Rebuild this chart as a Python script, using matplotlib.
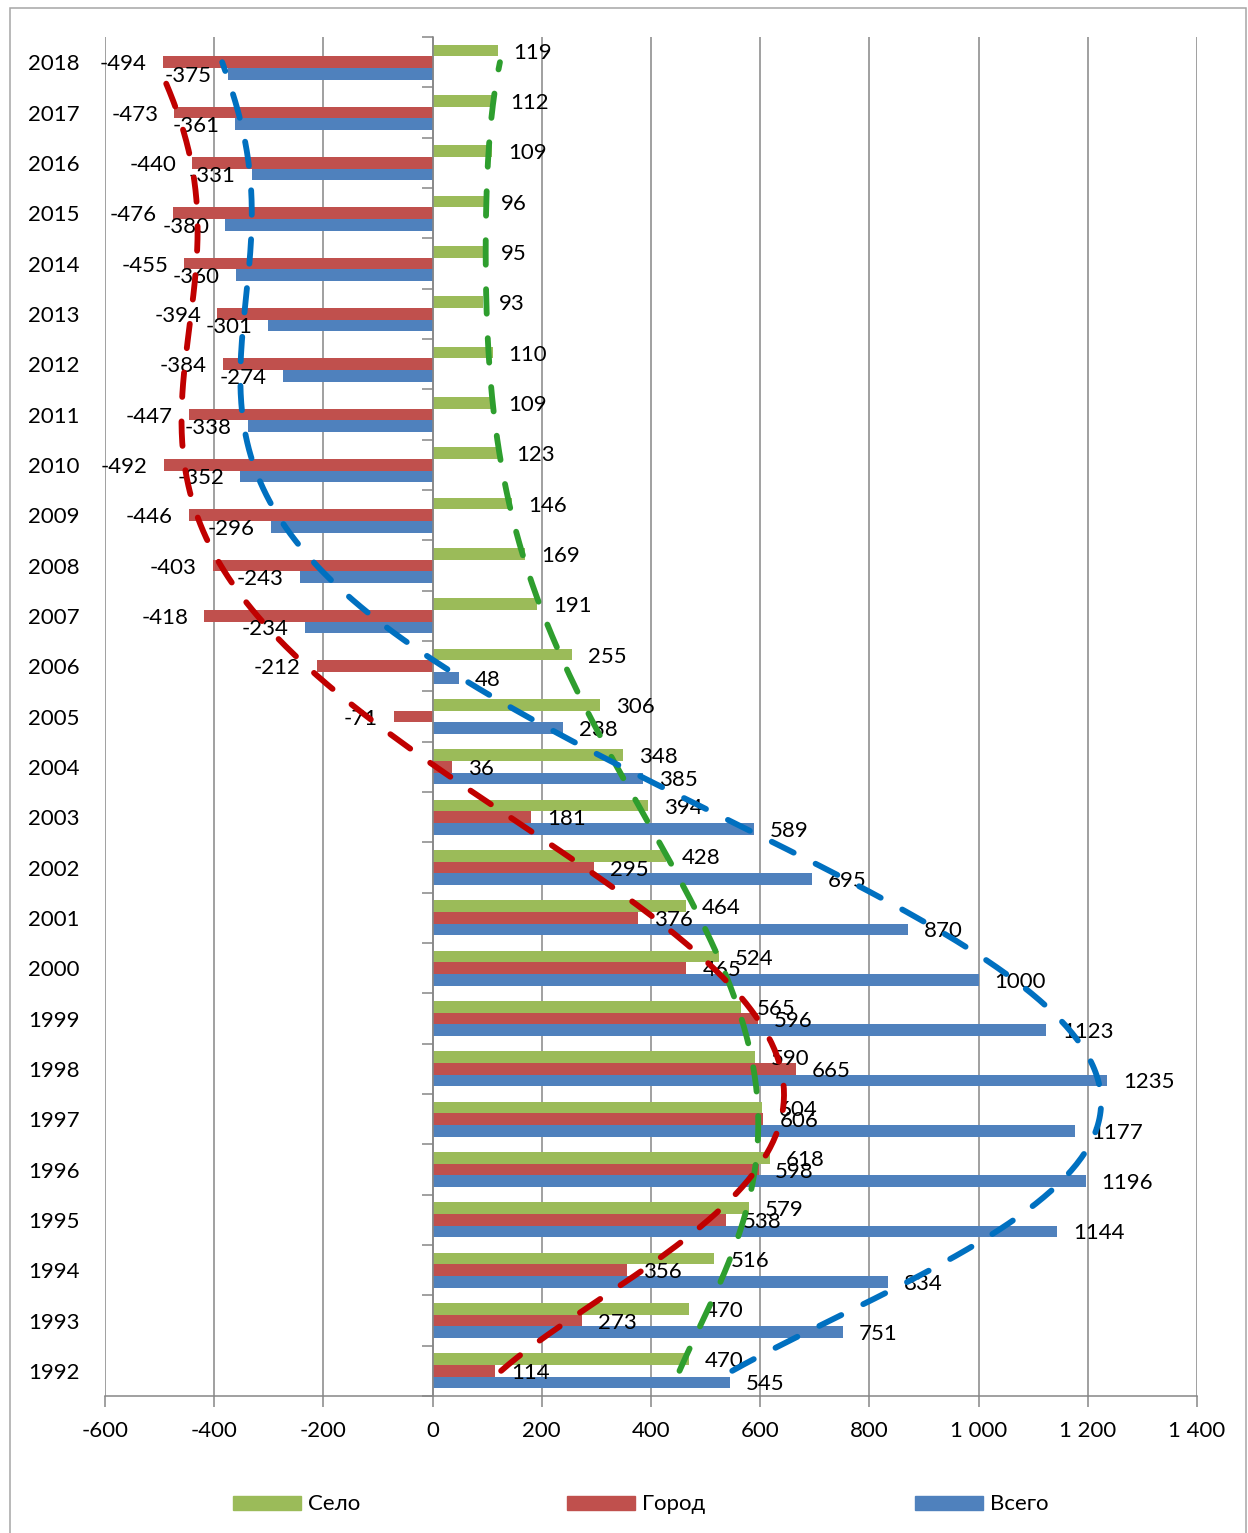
import numpy as np
import matplotlib
matplotlib.use("Agg")
import matplotlib.pyplot as plt
from matplotlib.patches import Rectangle

plt.rcParams['font.family'] = ['Lato', 'Open Sans', 'DejaVu Sans']

years = list(range(1992, 2019))
selo = [470, 470, 516, 579, 618, 604, 590, 565, 524, 464, 428, 394, 348, 306, 255,
        191, 169, 146, 123, 109, 110, 93, 95, 96, 109, 112, 119]
gorod = [114, 273, 356, 538, 598, 606, 665, 596, 465, 376, 295, 181, 36, -71, -212,
         -418, -403, -446, -492, -447, -384, -394, -455, -476, -440, -473, -494]
vsego = [545, 751, 834, 1144, 1196, 1177, 1235, 1123, 1000, 870, 695, 589, 385, 238, 48,
         -234, -243, -296, -352, -338, -274, -301, -360, -380, -331, -361, -375]
series_names = ["Село", "Город", "Всего"]
xticks = [-600, -400, -200, 0, 200, 400, 600, 800, 1000, 1200, 1400]
xtick_labels = ['-600', '-400', '-200', '0', '200', '400', '600', '800', '1 000', '1 200', '1 400']

bar_colors = ['#9BBB59', '#C0504D', '#4F81BD']
trend_colors = ['#2E9E2E', '#C00000', '#0070C0']
FS = 16

W, H = 1248, 1533
fig = plt.figure(figsize=(W / 100, H / 100), dpi=100)
L, R, T, B = 105, 1197, 37, 1396
ax = fig.add_axes([L / W, 1 - B / H, (R - L) / W, (B - T) / H])

pos = np.arange(len(years))
bh = 0.23
offsets = [bh, 0.0, -bh]
data = [selo, gorod, vsego]

for vals, off, col in zip(data, offsets, bar_colors):
    ax.barh(pos + off, vals, height=bh, color=col, zorder=2)
    for p, v in zip(pos, vals):
        if v >= 0:
            ax.annotate(str(v), (v, p + off), xytext=(11.5, -1.5), textcoords='offset points',
                        ha='left', va='center', fontsize=FS, zorder=3)
        else:
            ax.annotate(str(v), (v, p + off), xytext=(-11.5, -1.5), textcoords='offset points',
                        ha='right', va='center', fontsize=FS, zorder=3)

# polynomial trend lines (order 6), as in the source spreadsheet
xs = np.arange(1, len(years) + 1)
xf = np.linspace(1, len(years), 400)
for vals, col in zip(data, trend_colors):
    poly = np.polynomial.Polynomial.fit(xs, vals, 6)
    ax.plot(poly(xf), xf - 1, color=col, lw=4.2, linestyle=(0, (4.2, 4.2)),
            solid_capstyle='round', dash_capstyle='round', zorder=4)

ax.set_xlim(-600, 1400)
ax.set_ylim(-0.5, len(years) - 0.5)
ax.set_xticks(xticks)
ax.set_xticklabels(xtick_labels, fontsize=FS)
ax.tick_params(axis='x', length=8, width=1.1, color='#868686', pad=10)
ax.set_yticks(np.arange(-0.5, len(years), 1.0))
ax.set_yticklabels([])
ax.tick_params(axis='y', length=8, width=1.1, color='#868686', direction='out')
ax.spines['left'].set_position(('data', 0))
for s in ['top', 'right']:
    ax.spines[s].set_visible(False)
for s in ['left', 'bottom']:
    ax.spines[s].set_color('#868686')
    ax.spines[s].set_linewidth(1.1)
    ax.spines[s].set_zorder(2.5)
ax.grid(axis='x', color='#868686', lw=1.1, zorder=0)
ax.set_axisbelow(True)

for p, y in zip(pos, years):
    ax.annotate(str(y), (-0.023, p), xycoords=ax.get_yaxis_transform(),
                xytext=(0, -1.5), textcoords='offset points',
                ha='right', va='center', fontsize=FS)

# legend
leg = [(233, 308), (567, 642), (915, 990)]
for (sx, tx), col, name in zip(leg, bar_colors, series_names):
    fig.add_artist(Rectangle((sx / W, 1 - 1510 / H), 68 / W, 14 / H,
                             transform=fig.transFigure, color=col))
    fig.text(tx / W, 1 - 1504 / H, name, ha='left', va='center', fontsize=FS)

# outer frame
fig.add_artist(Rectangle((10 / W, -0.01), (1246 - 10) / W, 1 - 8 / H + 0.01,
                         transform=fig.transFigure, fill=False, ec='#A6A6A6', lw=1.1))

fig.savefig('out.png', dpi=100)
